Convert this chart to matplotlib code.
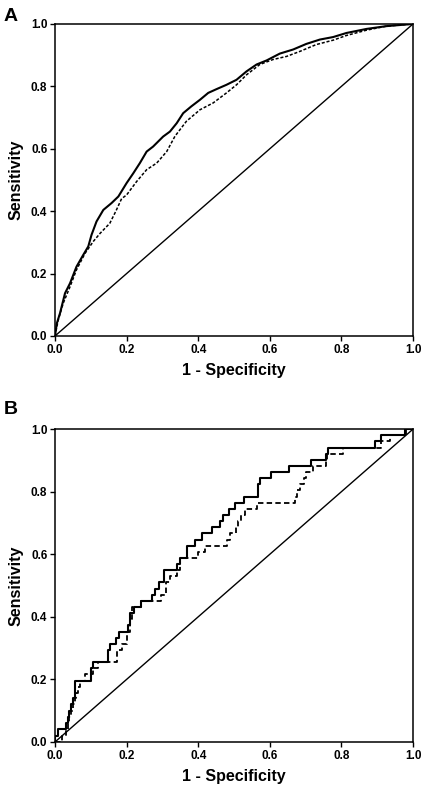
import matplotlib
matplotlib.use('Agg')
import matplotlib.pyplot as plt
import numpy as np

plt.rcParams['font.family'] = ['Liberation Sans', 'DejaVu Sans']

# Panel A: smooth ROC curves (1 - specificity, sensitivity)
a_solid_fpr = [0.0, 0.005, 0.014, 0.028, 0.042, 0.060, 0.079, 0.093, 0.102, 0.116,
               0.135, 0.158, 0.177, 0.200, 0.219, 0.237, 0.256, 0.274, 0.302, 0.321,
               0.340, 0.358, 0.381, 0.405, 0.428, 0.451, 0.479, 0.507, 0.535, 0.563,
               0.591, 0.628, 0.665, 0.702, 0.740, 0.777, 0.814, 0.870, 0.926, 1.0]
a_solid_tpr = [0.0, 0.040, 0.073, 0.137, 0.169, 0.222, 0.260, 0.287, 0.324, 0.367,
               0.404, 0.426, 0.447, 0.490, 0.522, 0.554, 0.591, 0.607, 0.639, 0.655,
               0.682, 0.714, 0.736, 0.757, 0.779, 0.791, 0.805, 0.821, 0.848, 0.870,
               0.883, 0.905, 0.918, 0.936, 0.950, 0.958, 0.971, 0.984, 0.993, 1.0]

a_dash_fpr = [0.0, 0.009, 0.023, 0.042, 0.060, 0.084, 0.107, 0.126, 0.153, 0.170,
              0.186, 0.200, 0.228, 0.256, 0.284, 0.312, 0.335, 0.367, 0.405, 0.442,
              0.479, 0.507, 0.535, 0.572, 0.609, 0.647, 0.684, 0.730, 0.777, 0.814,
              0.870, 0.926, 1.0]
a_dash_tpr = [0.0, 0.051, 0.105, 0.158, 0.212, 0.265, 0.303, 0.329, 0.361, 0.400,
              0.440, 0.452, 0.495, 0.533, 0.554, 0.591, 0.640, 0.688, 0.725, 0.747,
              0.779, 0.805, 0.837, 0.870, 0.886, 0.896, 0.912, 0.934, 0.948, 0.963,
              0.980, 0.993, 1.0]

# Panel B: step ROC curves, (fpr where sensitivity jumps, new sensitivity)
b_solid_fpr = [0.0, 0.0, 0.008, 0.030, 0.037, 0.040, 0.046, 0.050, 0.056, 0.100,
               0.105, 0.147, 0.155, 0.170, 0.178, 0.205, 0.210, 0.220, 0.240, 0.270,
               0.280, 0.290, 0.305, 0.340, 0.350, 0.368, 0.390, 0.412, 0.438, 0.460,
               0.469, 0.485, 0.504, 0.529, 0.568, 0.573, 0.603, 0.653, 0.714, 0.757,
               0.763, 0.895, 0.910, 0.977, 1.0]
b_solid_tpr = [0.0, 0.020, 0.040, 0.060, 0.080, 0.100, 0.120, 0.140, 0.196, 0.235,
               0.255, 0.294, 0.314, 0.333, 0.353, 0.373, 0.412, 0.431, 0.451, 0.471,
               0.490, 0.510, 0.549, 0.569, 0.588, 0.627, 0.647, 0.667, 0.686, 0.706,
               0.725, 0.745, 0.765, 0.784, 0.824, 0.843, 0.863, 0.882, 0.902, 0.922,
               0.941, 0.961, 0.980, 1.0, 1.0]

b_dash_fpr = [0.0, 0.020, 0.030, 0.035, 0.040, 0.045, 0.050, 0.055, 0.060, 0.065,
              0.070, 0.085, 0.105, 0.120, 0.172, 0.188, 0.200, 0.210, 0.215, 0.240,
              0.295, 0.310, 0.320, 0.340, 0.350, 0.400, 0.405, 0.420, 0.480, 0.483,
              0.490, 0.505, 0.510, 0.520, 0.530, 0.565, 0.670, 0.675, 0.685, 0.695,
              0.700, 0.720, 0.757, 0.760, 0.805, 0.910, 0.935, 0.980, 1.0]
b_dash_tpr = [0.0, 0.020, 0.040, 0.060, 0.080, 0.100, 0.120, 0.140, 0.157, 0.176,
              0.196, 0.216, 0.235, 0.255, 0.294, 0.314, 0.353, 0.392, 0.431, 0.451,
              0.471, 0.510, 0.529, 0.549, 0.588, 0.608, 0.608, 0.627, 0.647, 0.647,
              0.667, 0.686, 0.706, 0.725, 0.745, 0.765, 0.784, 0.804, 0.824, 0.843,
              0.863, 0.882, 0.902, 0.922, 0.941, 0.961, 0.980, 1.0, 1.0]

ticks = [0.0, 0.2, 0.4, 0.6, 0.8, 1.0]
tick_labels = ['0.0', '0.2', '0.4', '0.6', '0.8', '1.0']


def style_axes(ax):
    ax.set_xlim(0, 1)
    ax.set_ylim(0, 1)
    ax.set_xticks(ticks)
    ax.set_yticks(ticks)
    ax.set_xticklabels(tick_labels, fontsize=8.5, fontweight='bold')
    ax.set_yticklabels(tick_labels, fontsize=8.5, fontweight='bold')
    ax.tick_params(direction='out', length=3.5, width=1, pad=2)
    for s in ax.spines.values():
        s.set_linewidth(1.1)
    ax.set_xlabel('1 - Specificity', fontsize=11.5, fontweight='bold', labelpad=5)
    ax.set_ylabel('Sensitivity', fontsize=11.5, fontweight='bold', labelpad=5)
    ax.plot([0, 1], [0, 1], color='black', lw=1.0)


fig = plt.figure(figsize=(4.25, 7.9), dpi=100)

ax1 = fig.add_axes([0.1294, 0.5747, 0.8424, 0.395])
style_axes(ax1)
ax1.plot(a_dash_fpr, a_dash_tpr, color='black', lw=1.1, ls=(0, (2, 1.2)))
ax1.plot(a_solid_fpr, a_solid_tpr, color='black', lw=1.5)
fig.text(0.008, 0.99, 'A', fontsize=14, fontweight='bold', va='top', ha='left')

ax2 = fig.add_axes([0.1294, 0.0608, 0.8424, 0.396])
style_axes(ax2)
ax2.plot(b_dash_fpr, b_dash_tpr, color='black', lw=1.3, ls=(0, (3, 1.8)), drawstyle='steps-post')
ax2.plot(b_solid_fpr, b_solid_tpr, color='black', lw=1.5, drawstyle='steps-post')
fig.text(0.008, 0.492, 'B', fontsize=14, fontweight='bold', va='top', ha='left')

fig.savefig('out.png', dpi=100)
